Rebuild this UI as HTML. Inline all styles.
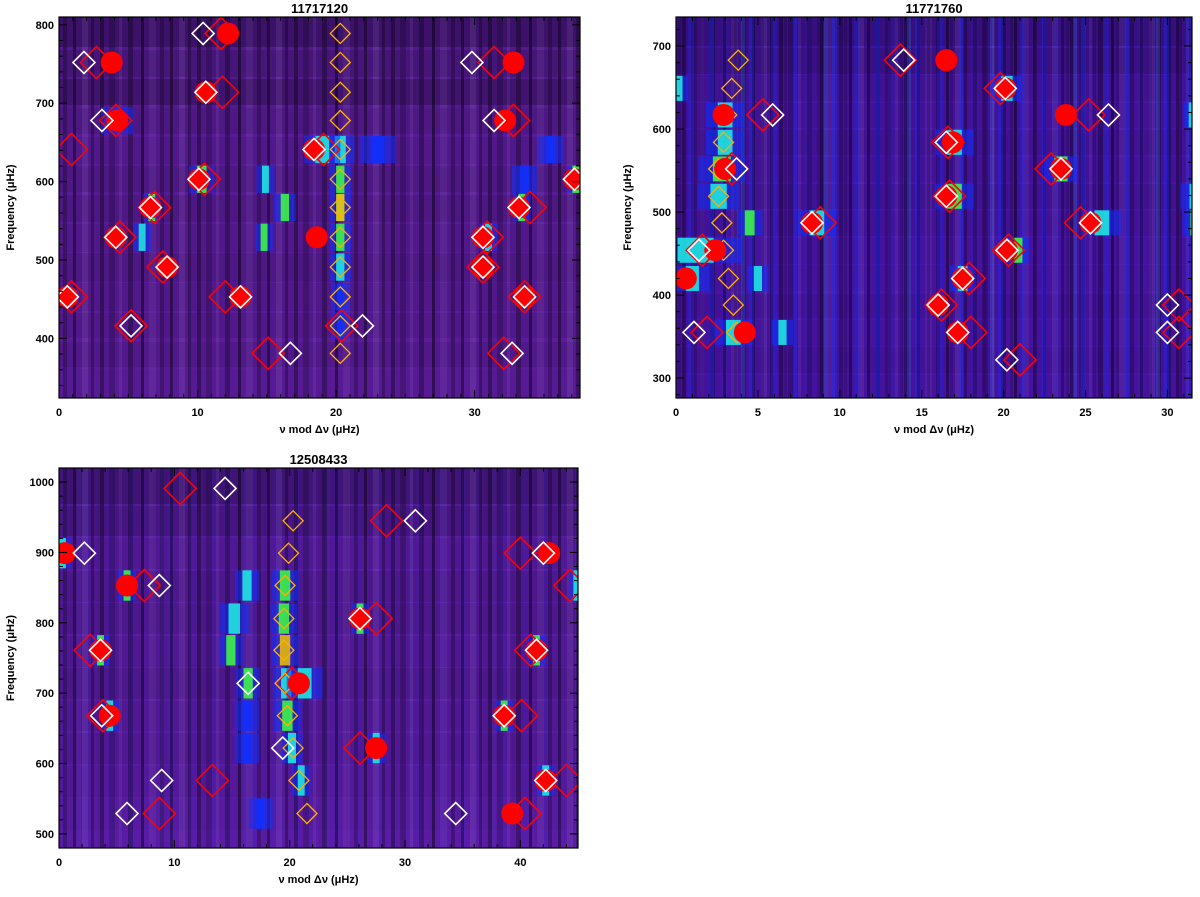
<!DOCTYPE html>
<html><head><meta charset="utf-8"><style>
body{margin:0;background:#fff;width:1200px;height:892px;overflow:hidden}
svg text{font-family:"Liberation Sans",sans-serif;font-weight:bold;fill:#000}
</style></head><body>
<svg id="chart" width="1200" height="892" xmlns="http://www.w3.org/2000/svg">
<defs>
<pattern id="stripes" width="97" height="10" patternUnits="userSpaceOnUse">
<rect x="3" width="4" height="10" fill="#000" opacity="0.35"/><rect x="12" width="6" height="10" fill="#000" opacity="0.2"/>
<rect x="22" width="3" height="10" fill="#fff" opacity="0.06"/><rect x="31" width="5" height="10" fill="#000" opacity="0.3"/>
<rect x="44" width="3" height="10" fill="#000" opacity="0.45"/><rect x="52" width="7" height="10" fill="#fff" opacity="0.05"/>
<rect x="63" width="4" height="10" fill="#000" opacity="0.25"/><rect x="73" width="3" height="10" fill="#000" opacity="0.4"/>
<rect x="82" width="6" height="10" fill="#fff" opacity="0.07"/><rect x="91" width="3" height="10" fill="#000" opacity="0.3"/>
</pattern>
<pattern id="bstripes" width="83" height="10" patternUnits="userSpaceOnUse">
<rect x="2" width="5" height="10" fill="#1030ff" opacity="0.7"/><rect x="14" width="3" height="10" fill="#000" opacity="0.35"/>
<rect x="24" width="6" height="10" fill="#1030ff" opacity="0.5"/><rect x="37" width="3" height="10" fill="#000" opacity="0.3"/>
<rect x="46" width="4" height="10" fill="#1030ff" opacity="0.8"/><rect x="58" width="7" height="10" fill="#3020c0" opacity="0.4"/>
<rect x="70" width="3" height="10" fill="#000" opacity="0.3"/><rect x="77" width="4" height="10" fill="#20a0ff" opacity="0.4"/>
</pattern>
</defs>
</svg>
<script>
// ---- Panel 1: KIC 11717120 ----
const p1Rows=[789,752,714,678,641,603,567,529,491,453,416,381,344];
const p1RowShade=[0.55,0.7,0.6,0.8,0.85,0.8,0.8,0.85,0.8,0.85,0.85,0.85,0.95];
const p1Circles=[[12.2,789],[3.8,752],[32.8,752],[10.6,714],[4.2,678],[32.2,678],[18.4,641],[10.1,603],[37.2,603],[6.6,567],[33.2,567],[4.1,529],[18.6,529],[30.6,529],[7.8,491],[30.6,491],[0.6,453],[13.1,453],[33.6,453]];
const p1White=[[10.4,789],[1.8,752],[29.8,752],[10.6,714],[3.1,678],[31.4,678],[18.4,641],[10.1,603],[37.2,603],[6.6,567],[33.2,567],[4.1,529],[30.6,529],[7.8,491],[30.6,491],[0.6,453],[13.1,453],[33.6,453],[5.2,416],[21.9,416],[16.7,381],[32.7,381]];
const p1Red=[[11.7,789],[2.7,752],[31.4,752],[11.8,714],[4.1,678],[32.8,678],[0.9,641],[19.1,641],[10.5,603],[6.9,567],[34,567],[4.4,529],[30.9,529],[7.5,491],[30.6,491],[0.9,453],[12,453],[33.6,453],[5.2,416],[20.4,416],[15.1,381],[32.1,381]];
const p1Orange=[[20.3,789],[20.3,752],[20.3,714],[20.3,678],[20.3,641],[20.3,603],[20.3,567],[20.3,529],[20.3,491],[20.3,453],[20.3,416],[20.3,381]];
const p1Glow=[[20.3,641,0.8,'#20f0e0'],[20.3,603,0.6,'#40ff40'],[20.3,567,0.6,'#f0e000'],[20.3,529,0.6,'#40ff40'],[20.3,491,0.6,'#20f0e0'],[20.3,453,0.5,'#1030ff'],[20.3,416,0.5,'#1030ff'],[19,641,1.0,'#20f0e0'],[14.9,603,0.5,'#20f0e0'],[16.3,567,0.6,'#40ff40'],[14.8,529,0.5,'#40ff40'],[23,641,1.0,'#1030ff'],[10.3,603,0.7,'#40ff40'],[4.2,678,0.9,'#1030ff'],[6.7,567,0.5,'#40ff40'],[33.4,567,0.5,'#40ff40'],[31,529,0.5,'#20f0e0'],[37.3,603,0.5,'#40ff40'],[6,529,0.5,'#20f0e0'],[33.6,603,0.7,'#1030ff'],[35.5,641,0.7,'#1030ff']];

// ---- Panel 2: KIC 11771760 ----
const p2Rows=[716,683,649,617,584,552,519,487,454,420,388,355,322,289];
const p2RowShade=[0.6,0.65,0.8,0.85,0.8,0.85,0.8,0.85,0.9,0.9,0.85,0.9,0.85,0.9];
const p2Circles=[[16.5,683],[20.1,649],[2.9,617],[23.8,617],[16.9,584],[3.0,552],[23.5,552],[16.5,519],[8.3,487],[25.3,487],[2.4,454],[20.2,454],[0.6,420],[17.5,420],[16.0,388],[4.2,355],[17.2,355]];
const p2White=[[13.9,683],[20.1,649],[5.9,617],[26.4,617],[16.5,584],[3.7,552],[23.5,552],[16.5,519],[8.3,487],[25.3,487],[1.4,454],[20.2,454],[17.5,420],[16.0,388],[30.0,388],[1.1,355],[17.2,355],[30.0,355],[20.2,322]];
const p2Red=[[13.7,683],[19.8,649],[5.3,617],[25.2,617],[16.6,584],[3.4,552],[22.9,552],[16.7,519],[8.8,487],[24.7,487],[1.6,454],[20.3,454],[17.9,420],[16.2,388],[30.7,388],[1.9,355],[18.0,355],[30.7,355],[21.0,322]];
const p2Orange=[[3.8,683],[3.4,649],[3.1,617],[2.9,584],[2.6,552],[2.6,519],[2.8,487],[2.9,454],[3.2,420],[3.5,388],[3.7,355]];
const p2Glow=[[1.2,454,2.2,'#20f0e0'],[3,617,0.9,'#20f0e0'],[3,584,0.9,'#20f0e0'],[2.8,552,1.1,'#40ff40'],[2.6,519,1.0,'#20f0e0'],[0.2,649,0.4,'#20f0e0'],[31.7,519,0.7,'#20f0e0'],[31.7,487,0.6,'#40ff40'],[17,584,0.9,'#20f0e0'],[17,519,0.9,'#40ff40'],[20.2,649,0.7,'#20f0e0'],[23.5,552,0.8,'#40ff40'],[26,487,0.9,'#20f0e0'],[8.6,487,0.9,'#20f0e0'],[4.5,487,0.6,'#40ff40'],[1,420,0.8,'#20f0e0'],[3.5,355,0.9,'#20f0e0'],[6.5,355,0.5,'#20f0e0'],[20.9,454,0.5,'#40ff40'],[31.5,617,0.4,'#20f0e0'],[17.5,420,0.6,'#20f0e0'],[5,420,0.5,'#20f0e0']];

// ---- Panel 3: KIC 12508433 ----
const p3Rows=[991,945,899,853,806,761,714,668,622,576,529,483];
const p3RowShade=[0.6,0.7,0.85,0.8,0.8,0.85,0.8,0.85,0.85,0.9,0.95,1.0];
const p3Circles=[[0.5,899],[42.5,899],[5.9,853],[26.1,806],[3.6,761],[41.4,761],[20.8,714],[4.4,668],[38.6,668],[27.5,622],[42.2,576],[39.3,529]];
const p3White=[[14.4,991],[30.9,945],[2.2,899],[42.0,899],[8.7,853],[26.1,806],[3.6,761],[41.4,761],[16.4,714],[3.7,668],[38.6,668],[19.4,622],[8.9,576],[42.2,576],[5.9,529],[34.4,529]];
const p3Red=[[10.5,991],[28.4,945],[40.0,899],[7.4,853],[44.3,853],[27.5,806],[2.7,761],[40.9,761],[20.2,714],[3.8,668],[40.1,668],[26.1,622],[13.3,576],[44.0,576],[8.7,529],[40.4,529]];
const p3Orange=[[20.3,945],[19.9,899],[19.6,853],[19.5,806],[19.5,761],[19.6,714],[19.8,668],[20.3,622],[20.8,576],[21.5,529]];
const p3Glow=[[19.6,853,0.9,'#40ff40'],[19.5,806,0.9,'#40ff40'],[19.6,761,0.9,'#f0c000'],[19.7,714,0.9,'#20f0e0'],[19.8,668,0.9,'#40ff40'],[20.2,622,0.7,'#20f0e0'],[21,576,0.6,'#20f0e0'],[16.3,853,0.8,'#20f0e0'],[15.2,806,1,'#20f0e0'],[14.9,761,0.8,'#40ff40'],[16.4,714,0.8,'#40ff40'],[16.3,668,0.8,'#1030ff'],[16.3,622,0.8,'#1030ff'],[0.3,899,0.6,'#20f0e0'],[5.9,853,0.6,'#40ff40'],[26.1,806,0.6,'#40ff40'],[3.6,761,0.6,'#40ff40'],[41.4,761,0.6,'#40ff40'],[4.4,668,0.6,'#20f0e0'],[38.6,668,0.6,'#40ff40'],[27.5,622,0.6,'#20f0e0'],[42.2,576,0.6,'#20f0e0'],[44.8,853,0.4,'#20f0e0'],[17.5,529,0.8,'#1030ff'],[21.3,714,1.2,'#20f0e0']];

const NS='http://www.w3.org/2000/svg';
const svg=document.getElementById('chart');
function mk(tag,attrs,parent){const e=document.createElementNS(NS,tag);for(const k in attrs)e.setAttribute(k,attrs[k]);(parent||svg).appendChild(e);return e;}

function panel(cfg){
  const g=mk('g',{});
  
  
  const sx=v=>cfg.x0+(v-cfg.xmin)/(cfg.xmax-cfg.xmin)*(cfg.x1-cfg.x0);
  const sy=v=>cfg.y1-(v-cfg.ymin)/(cfg.ymax-cfg.ymin)*(cfg.y1-cfg.y0);
  const clipId='clip'+cfg.id;
  const cp=mk('clipPath',{id:clipId},g);mk('rect',{x:cfg.x0,y:cfg.y0,width:cfg.x1-cfg.x0,height:cfg.y1-cfg.y0},cp);
  const plot=mk('g',{'clip-path':'url(#'+clipId+')'},g);
  
  
  mk('rect',{x:cfg.x0,y:cfg.y0,width:cfg.x1-cfg.x0,height:cfg.y1-cfg.y0,fill:cfg.dark},plot);
  const n=cfg.rows.length;
  cfg.rows.forEach((f,i)=>{
    let ya=sy(f+cfg.dnu/2),yb=sy(f-cfg.dnu/2);
    if(i===0) ya=cfg.y0-2;
    if(i===n-1) yb=cfg.y1+2;
    ya=Math.floor(ya);yb=Math.ceil(yb)+1;
    const r=mk('rect',{x:cfg.x0,y:ya,width:cfg.x1-cfg.x0,height:yb-ya,fill:cfg.base,'fill-opacity':cfg.shade[i]},plot);
    
    
    const off=(i*37)%97;
    mk('rect',{x:cfg.x0-off,y:ya,width:cfg.x1-cfg.x0+100,height:yb-ya,fill:'url(#stripes)'},plot);
    if(cfg.blue) mk('rect',{x:cfg.x0-(i*29)%83,y:ya,width:cfg.x1-cfg.x0+90,height:yb-ya,fill:'url(#bstripes)',opacity:cfg.blue},plot);
  });
  cfg.glow.forEach(d=>{
    const ya=sy(d[1]+cfg.dnu/2)+1,yb=sy(d[1]-cfg.dnu/2)-1;
    const w=Math.max(3,sx(d[2])-sx(0));
    mk('rect',{x:sx(d[0])-w*1.3,y:ya,width:w*2.6,height:yb-ya,fill:'#1030ff',opacity:0.55},plot);
    const r=mk('rect',{x:sx(d[0])-w/2,y:ya,width:w,height:yb-ya,fill:d[3],opacity:0.85},plot);
    
    
  });
  const dia=(d,s,col,sw,name)=>{const X=sx(d[0]),Y=sy(d[1]);
    const p=mk('polygon',{points:`${X},${Y-s} ${X+s},${Y} ${X},${Y+s} ${X-s},${Y}`,fill:'none',stroke:col,'stroke-width':sw},plot);
    
    };
  cfg.red.forEach(d=>dia(d,16,'#ff0000',1.6,'model-mode-marker'));
  cfg.orange.forEach(d=>dia(d,10,'#ffb000',1.3,'l1-mode-marker'));
  cfg.circles.forEach(d=>{const c=mk('circle',{cx:sx(d[0]),cy:sy(d[1]),r:11,fill:'#ff0000'},plot);
    
    });
  cfg.white.forEach(d=>dia(d,11,'#ffffff',1.6,'fitted-mode-marker'));
  const fr=mk('rect',{x:cfg.x0,y:cfg.y0,width:cfg.x1-cfg.x0,height:cfg.y1-cfg.y0,fill:'none',stroke:'#000','stroke-width':1.2},g);
  
  
  for(let v=Math.ceil(cfg.xmin/cfg.xminor)*cfg.xminor;v<=cfg.xmax+1e-6;v+=cfg.xminor){
    const X=sx(v);const major=Math.abs(v/cfg.xmajor-Math.round(v/cfg.xmajor))<1e-6;const L=major?8:4;
    mk('line',{x1:X,y1:cfg.y1,x2:X,y2:cfg.y1-L,stroke:'#000'},g);mk('line',{x1:X,y1:cfg.y0,x2:X,y2:cfg.y0+L,stroke:'#000'},g);
    if(major){const t=mk('text',{x:X,y:cfg.y1+18,'text-anchor':'middle','font-size':11},g);t.textContent=Math.round(v);
      
      }
  }
  for(let v=Math.ceil(cfg.ymin/cfg.yminor)*cfg.yminor;v<=cfg.ymax+1e-6;v+=cfg.yminor){
    const Y=sy(v);const major=v%cfg.ymajor===0;const L=major?8:4;
    mk('line',{x1:cfg.x0,y1:Y,x2:cfg.x0+L,y2:Y,stroke:'#000'},g);mk('line',{x1:cfg.x1,y1:Y,x2:cfg.x1-L,y2:Y,stroke:'#000'},g);
    if(major){const t=mk('text',{x:cfg.x0-5,y:Y+4,'text-anchor':'end','font-size':11},g);t.textContent=v;
      
      }
  }
  const tt=mk('text',{x:(cfg.x0+cfg.x1)/2,y:cfg.y0-4,'text-anchor':'middle','font-size':13},g);tt.textContent=cfg.title;
  
  
  const xt=mk('text',{x:(cfg.x0+cfg.x1)/2,y:cfg.y1+35,'text-anchor':'middle','font-size':11},g);xt.textContent='ν mod Δν (μHz)';
  
  
  const yx=cfg.x0-45,yy=(cfg.y0+cfg.y1)/2;
  const yt=mk('text',{x:yx,y:yy,'text-anchor':'middle','font-size':11,transform:`rotate(-90 ${yx} ${yy})`},g);yt.textContent='Frequency (μHz)';
  
  
}

panel({id:1,name:'panel-11717120',title:'11717120',x0:59,x1:580,y0:17,y1:398,xmin:0,xmax:37.6,ymin:324,ymax:810,dnu:37.4,
  xmajor:10,xminor:1,ymajor:100,yminor:20,base:'#5a1c9a',dark:'#1a0630',blue:0,rows:p1Rows,shade:p1RowShade,circles:p1Circles,white:p1White,red:p1Red,orange:p1Orange,glow:p1Glow});
panel({id:2,name:'panel-11771760',title:'11771760',x0:676,x1:1192,y0:17,y1:398,xmin:0,xmax:31.5,ymin:276,ymax:735,dnu:32.6,
  xmajor:5,xminor:1,ymajor:100,yminor:20,base:'#4a14a8',dark:'#1a0640',blue:0.5,rows:p2Rows,shade:p2RowShade,circles:p2Circles,white:p2White,red:p2Red,orange:p2Orange,glow:p2Glow});
panel({id:3,name:'panel-12508433',title:'12508433',x0:59,x1:578,y0:468,y1:848,xmin:0,xmax:45,ymin:480,ymax:1020,dnu:46,
  xmajor:10,xminor:2,ymajor:100,yminor:20,base:'#5a1ca6',dark:'#1a0630',blue:0.12,rows:p3Rows,shade:p3RowShade,circles:p3Circles,white:p3White,red:p3Red,orange:p3Orange,glow:p3Glow});
</script>
</body></html>
